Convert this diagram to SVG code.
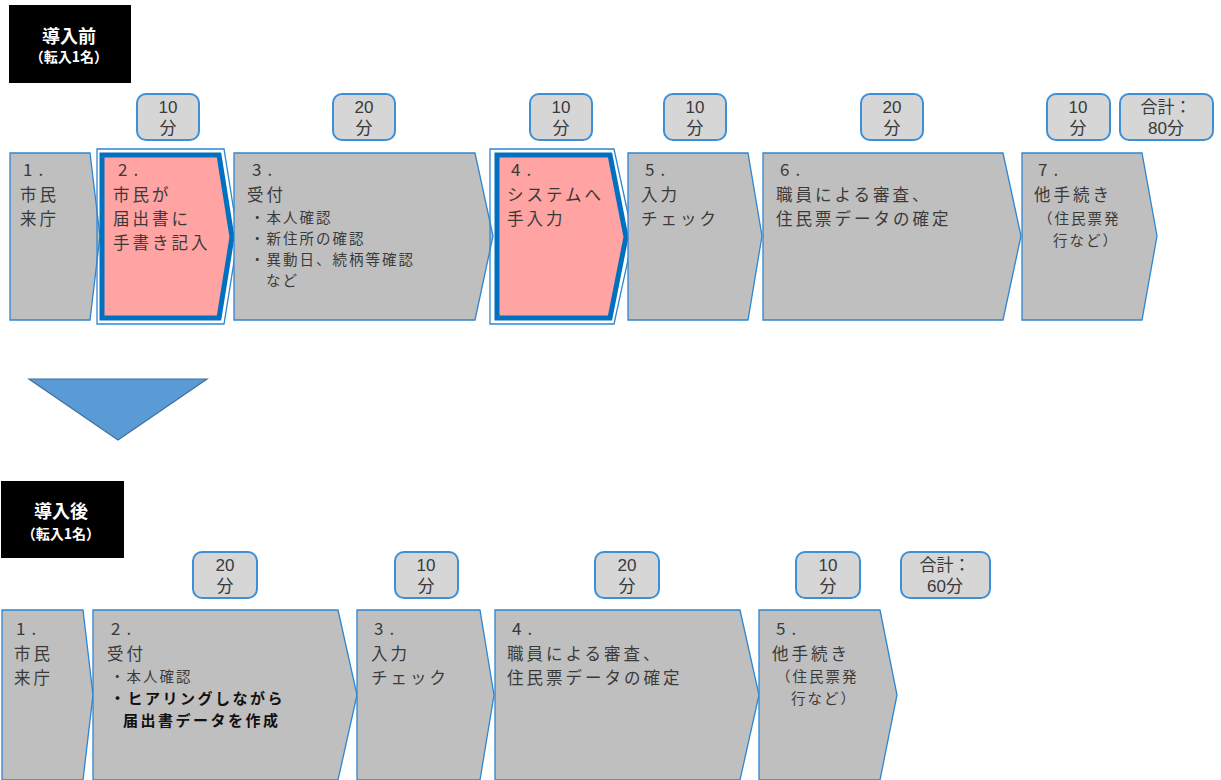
<svg xmlns="http://www.w3.org/2000/svg" width="1221" height="780" viewBox="0 0 1221 780">
<style>
.step{fill:#BFBFBF;stroke:#2E86D0;stroke-width:1.3}
.hl{fill:#FFA3A3;stroke:#0070C0;stroke-width:5;stroke-linejoin:miter}
.hlo{fill:none;stroke:#2E86D0;stroke-width:1.3}
.tb{fill:#D6D6D6;stroke:#3D8FD6;stroke-width:2}
.hd{fill:#000}
.t{font-family:"Noto Sans CJK JP",sans-serif;font-size:16.5px;fill:#3A3A3A;letter-spacing:3px}
.n{font-family:"Noto Sans CJK JP",sans-serif;font-size:17px;fill:#3A3A3A;letter-spacing:6px}
.s{font-family:"Noto Sans CJK JP",sans-serif;font-size:14.5px;fill:#3A3A3A;letter-spacing:2px}
.sb{font-family:"Noto Sans CJK JP",sans-serif;font-size:15px;fill:#111;font-weight:bold;letter-spacing:2.5px}
.tm{font-family:"Liberation Sans","Noto Sans CJK JP",sans-serif;font-size:17px;fill:#3A3A3A;text-anchor:middle}
.h1{font-family:"Noto Sans CJK JP",sans-serif;font-size:18px;fill:#fff;font-weight:bold;text-anchor:middle}
.h2{font-family:"Noto Sans CJK JP",sans-serif;font-size:14px;fill:#fff;font-weight:bold;text-anchor:middle}
</style>

<g id="header-before">
<rect class="hd" x="9" y="5" width="122" height="78"/>
<text class="h1" x="69" y="43">導入前</text>
<text class="h2" x="69" y="62">（転入1名）</text>
</g>

<g id="times-before">
<rect class="tb" x="137" y="94" width="62" height="46" rx="9"/>
<text class="tm" x="168" y="113">10</text><text class="tm" x="168" y="134">分</text>
<rect class="tb" x="333" y="94" width="62" height="46" rx="9"/>
<text class="tm" x="364" y="113">20</text><text class="tm" x="364" y="134">分</text>
<rect class="tb" x="530" y="94" width="62" height="46" rx="9"/>
<text class="tm" x="561" y="113">10</text><text class="tm" x="561" y="134">分</text>
<rect class="tb" x="664" y="94" width="62" height="46" rx="9"/>
<text class="tm" x="695" y="113">10</text><text class="tm" x="695" y="134">分</text>
<rect class="tb" x="861" y="94" width="62" height="46" rx="9"/>
<text class="tm" x="892" y="113">20</text><text class="tm" x="892" y="134">分</text>
<rect class="tb" x="1047" y="94" width="63" height="46" rx="9"/>
<text class="tm" x="1078" y="113">10</text><text class="tm" x="1078" y="134">分</text>
<rect class="tb" x="1120" y="94" width="93" height="46" rx="9"/>
<text class="tm" x="1166" y="113">合計：</text><text class="tm" x="1166" y="134">80分</text>
</g>

<g id="b1">
<path class="step" d="M10,153 H90 L100,236 L90,320 H10 Z"/>
<text class="n" x="23" y="176">1.</text>
<text class="t" x="20" y="201">市民</text>
<text class="t" x="20" y="225">来庁</text>
</g>
<g id="b2">
<path class="hlo" d="M97,149 H224 L238,237 L224,324 H97 Z"/>
<path class="hl" d="M102,155 H219 L232,237 L219,318 H102 Z"/>
<text class="n" x="118" y="176">2.</text>
<text class="t" x="113" y="201">市民が</text>
<text class="t" x="113" y="225">届出書に</text>
<text class="t" x="113" y="249">手書き記入</text>
</g>
<g id="b3">
<path class="step" d="M234,153 H475 L493,236 L475,320 H234 Z"/>
<text class="n" x="252" y="176">3.</text>
<text class="t" x="247" y="201">受付</text>
<text class="s" x="250" y="223">・本人確認</text>
<text class="s" x="250" y="244">・新住所の確認</text>
<text class="s" x="250" y="265">・異動日、続柄等確認</text>
<text class="s" x="266" y="286">など</text>
</g>
<g id="b4">
<path class="hlo" d="M490,149 H614 L633,237 L614,324 H490 Z"/>
<path class="hl" d="M497,155 H610 L626,237 L610,318 H497 Z"/>
<text class="n" x="511" y="176">4.</text>
<text class="t" x="507" y="201">システムへ</text>
<text class="t" x="507" y="225">手入力</text>
</g>
<g id="b5">
<path class="step" d="M628,153 H748 L762,236 L748,320 H628 Z"/>
<text class="n" x="645" y="176">5.</text>
<text class="t" x="641" y="201">入力</text>
<text class="t" x="641" y="225">チェック</text>
</g>
<g id="b6">
<path class="step" d="M763,153 H1003 L1021,236 L1003,320 H763 Z"/>
<text class="n" x="780" y="176">6.</text>
<text class="t" x="776" y="201">職員による審査、</text>
<text class="t" x="776" y="225">住民票データの確定</text>
</g>
<g id="b7">
<path class="step" d="M1022,153 H1142 L1157,236 L1142,320 H1022 Z"/>
<text class="n" x="1038" y="176">7.</text>
<text class="t" x="1034" y="201">他手続き</text>
<text class="s" x="1038" y="224">（住民票発</text>
<text class="s" x="1053" y="245.5">行など）</text>
</g>

<g id="down-arrow">
<path d="M29,379 H207 L118,440 Z" fill="#5B9BD5" stroke="#41719C" stroke-width="1.2"/>
</g>

<g id="header-after">
<rect class="hd" x="1" y="481" width="123" height="77"/>
<text class="h1" x="61" y="518">導入後</text>
<text class="h2" x="61" y="539">（転入1名）</text>
</g>

<g id="times-after">
<rect class="tb" x="193" y="552" width="64" height="46" rx="9"/>
<text class="tm" x="225" y="571">20</text><text class="tm" x="225" y="592">分</text>
<rect class="tb" x="395" y="552" width="63" height="46" rx="9"/>
<text class="tm" x="426" y="571">10</text><text class="tm" x="426" y="592">分</text>
<rect class="tb" x="595" y="552" width="64" height="46" rx="9"/>
<text class="tm" x="627" y="571">20</text><text class="tm" x="627" y="592">分</text>
<rect class="tb" x="796" y="552" width="64" height="46" rx="9"/>
<text class="tm" x="828" y="571">10</text><text class="tm" x="828" y="592">分</text>
<rect class="tb" x="901" y="552" width="89" height="46" rx="9"/>
<text class="tm" x="945" y="571">合計：</text><text class="tm" x="945" y="592">60分</text>
</g>

<g id="a1">
<path class="step" d="M2,610 H83 L93,695 L83,780 H2 Z"/>
<text class="n" x="16" y="635">1.</text>
<text class="t" x="14" y="660">市民</text>
<text class="t" x="14" y="684">来庁</text>
</g>
<g id="a2">
<path class="step" d="M93,610 H338 L357,695 L338,780 H93 Z"/>
<text class="n" x="111" y="635">2.</text>
<text class="t" x="107" y="660">受付</text>
<text class="s" x="110" y="682">・本人確認</text>
<text class="sb" x="110" y="704">・ヒアリングしながら</text>
<text class="sb" x="123" y="726">届出書データを作成</text>
</g>
<g id="a3">
<path class="step" d="M357,610 H480 L494,695 L480,780 H357 Z"/>
<text class="n" x="374" y="635">3.</text>
<text class="t" x="371" y="660">入力</text>
<text class="t" x="371" y="684">チェック</text>
</g>
<g id="a4">
<path class="step" d="M495,610 H740 L759,695 L740,780 H495 Z"/>
<text class="n" x="512" y="635">4.</text>
<text class="t" x="507" y="660">職員による審査、</text>
<text class="t" x="507" y="684">住民票データの確定</text>
</g>
<g id="a5">
<path class="step" d="M759,610 H880 L897,695 L880,780 H759 Z"/>
<text class="n" x="776" y="635">5.</text>
<text class="t" x="772" y="660">他手続き</text>
<text class="s" x="776" y="682">（住民票発</text>
<text class="s" x="791" y="704">行など）</text>
</g>
</svg>
